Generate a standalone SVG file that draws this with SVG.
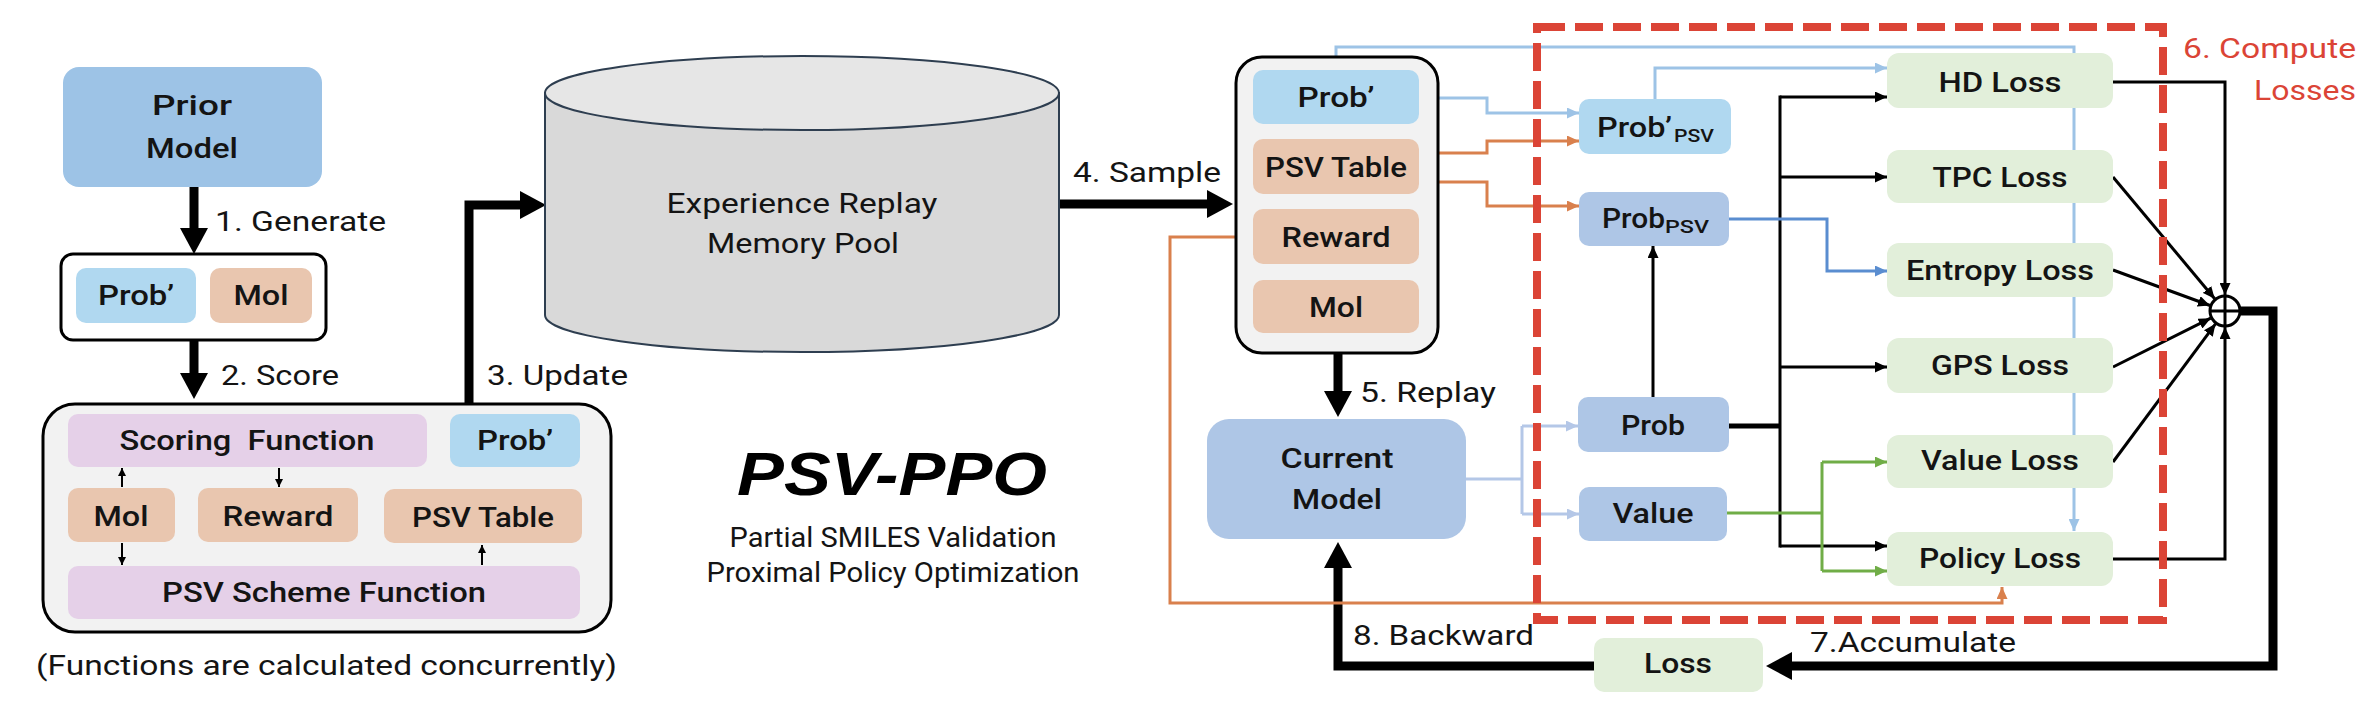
<svg xmlns="http://www.w3.org/2000/svg" width="2366" height="724" viewBox="0 0 2366 724">
<style>
.lbl{font-family:Roboto,"Liberation Sans",sans-serif;font-size:28px;font-weight:500;text-anchor:middle;fill:#141414}
.edge{font-family:Roboto,"Liberation Sans",sans-serif;font-size:27px;font-weight:400;fill:#141414}
.box{stroke:none}
.blue{fill:#AEC6E6}.lblue{fill:#B0D8F0}.peach{fill:#E9C6AF}.lav{fill:#E5D0E8}.green{fill:#E2EFDA}
.thick{fill:none;stroke:#000;stroke-width:9}
.thin{fill:none;stroke-width:3}
.tiny{fill:none;stroke:#000;stroke-width:2}
.k{stroke:#000}.lb{stroke:#9DC3E6}.pb{stroke:#B4C7E7}.or{stroke:#D9804D}.gr{stroke:#70AD47}.bl{stroke:#5A8DD0}
</style>
<defs>
<marker id="bigA" markerUnits="userSpaceOnUse" markerWidth="26" markerHeight="28" viewBox="0 0 26 28" refX="0" refY="14" orient="auto"><path d="M0,0 L26,14 L0,28 z" fill="#000"/></marker>
<marker id="aK" markerUnits="userSpaceOnUse" markerWidth="12" markerHeight="11" viewBox="0 0 12 11" refX="12" refY="5.5" orient="auto"><path d="M0,0 L12,5.5 L0,11 z" fill="#000"/></marker>
<marker id="aLB" markerUnits="userSpaceOnUse" markerWidth="12" markerHeight="11" viewBox="0 0 12 11" refX="12" refY="5.5" orient="auto"><path d="M0,0 L12,5.5 L0,11 z" fill="#9DC3E6"/></marker>
<marker id="aPB" markerUnits="userSpaceOnUse" markerWidth="12" markerHeight="11" viewBox="0 0 12 11" refX="12" refY="5.5" orient="auto"><path d="M0,0 L12,5.5 L0,11 z" fill="#B4C7E7"/></marker>
<marker id="aOR" markerUnits="userSpaceOnUse" markerWidth="12" markerHeight="11" viewBox="0 0 12 11" refX="12" refY="5.5" orient="auto"><path d="M0,0 L12,5.5 L0,11 z" fill="#D9804D"/></marker>
<marker id="aGR" markerUnits="userSpaceOnUse" markerWidth="12" markerHeight="11" viewBox="0 0 12 11" refX="12" refY="5.5" orient="auto"><path d="M0,0 L12,5.5 L0,11 z" fill="#70AD47"/></marker>
<marker id="aBL" markerUnits="userSpaceOnUse" markerWidth="12" markerHeight="11" viewBox="0 0 12 11" refX="12" refY="5.5" orient="auto"><path d="M0,0 L12,5.5 L0,11 z" fill="#5A8DD0"/></marker>
<marker id="aS" markerUnits="userSpaceOnUse" markerWidth="8" markerHeight="8" viewBox="0 0 8 8" refX="8" refY="4" orient="auto"><path d="M0,0 L8,4 L0,8 z" fill="#000"/></marker>
</defs>
<rect width="2366" height="724" fill="#fff"/>

<!-- connectors drawn beneath nodes -->
<g id="connectors">
  <!-- big flow arrows -->
  <path class="thick" d="M194,187 V228" marker-end="url(#bigA)"/>
  <path class="thick" d="M194,340 V373" marker-end="url(#bigA)"/>
  <path class="thick" d="M469,404 V205 H520" marker-end="url(#bigA)"/>
  <path class="thick" d="M1059,204 H1207" marker-end="url(#bigA)"/>
  <path class="thick" d="M1338,353 V391" marker-end="url(#bigA)"/>
  <path class="thick" d="M1594,666 H1338 V568" marker-end="url(#bigA)"/>
  <path class="thick" d="M2238,311 H2273 V666 H1792" marker-end="url(#bigA)"/>
  <!-- light blue (Prob') -->
  <path class="thin lb" d="M1336,70 V47 H2074 V531" marker-end="url(#aLB)"/>
  <path class="thin lb" d="M1419,98 H1487 V113 H1579" marker-end="url(#aLB)"/>
  <path class="thin lb" d="M1655,99 V68 H1887" marker-end="url(#aLB)"/>
  <!-- orange (PSV Table, Reward) -->
  <path class="thin or" d="M1419,153 H1487 V141 H1579" marker-end="url(#aOR)"/>
  <path class="thin or" d="M1419,182 H1487 V206 H1579" marker-end="url(#aOR)"/>
  <path class="thin or" d="M1236,237 H1170 V603 H2002 V587" marker-end="url(#aOR)"/>
  <!-- pale blue (Current Model) -->
  <path class="thin pb" d="M1466,479 H1522"/>
  <path class="thin pb" d="M1522,426 V514"/>
  <path class="thin pb" d="M1522,426 H1578" marker-end="url(#aPB)"/>
  <path class="thin pb" d="M1522,514 H1579" marker-end="url(#aPB)"/>
  <!-- black (Prob) -->
  <path class="thin k" d="M1653,397 V246" marker-end="url(#aK)"/>
  <path fill="none" stroke="#000" stroke-width="5" d="M1729,426 H1781"/>
  <path class="thin k" d="M1780,95.5 V547.5"/>
  <path class="thin k" d="M1780,97 H1887" marker-end="url(#aK)"/>
  <path class="thin k" d="M1780,177 H1887" marker-end="url(#aK)"/>
  <path class="thin k" d="M1780,367 H1887" marker-end="url(#aK)"/>
  <path class="thin k" d="M1780,546 H1887" marker-end="url(#aK)"/>
  <!-- blue (ProbPSV to Entropy) -->
  <path class="thin bl" d="M1729,219 H1827 V271 H1887" marker-end="url(#aBL)"/>
  <!-- green (Value) -->
  <path class="thin gr" d="M1727,513 H1822"/>
  <path class="thin gr" d="M1822,462 V571"/>
  <path class="thin gr" d="M1822,462 H1887" marker-end="url(#aGR)"/>
  <path class="thin gr" d="M1822,571 H1887" marker-end="url(#aGR)"/>
  <!-- losses to sum -->
  <path class="thin k" d="M2113,82 H2225 V295" marker-end="url(#aK)"/>
  <path class="thin k" d="M2113,559 H2225 V327" marker-end="url(#aK)"/>
  <path class="thin k" d="M2113,177 L2214.7,298.7" marker-end="url(#aK)"/>
  <path class="thin k" d="M2113,270 L2210,305.5" marker-end="url(#aK)"/>
  <path class="thin k" d="M2113,367 L2210.7,318.2" marker-end="url(#aK)"/>
  <path class="thin k" d="M2113,462 L2215.5,323.8" marker-end="url(#aK)"/>
</g>

<!-- left part -->
<g id="prior-model">
  <rect x="63" y="67" width="259" height="120" rx="16" fill="#9DC3E6"/>
  <text class="lbl" x="192" y="115" textLength="80" lengthAdjust="spacingAndGlyphs">Prior</text>
  <text class="lbl" x="192" y="158" textLength="92" lengthAdjust="spacingAndGlyphs">Model</text>
</g>
<text class="edge" x="215" y="231" textLength="171" lengthAdjust="spacingAndGlyphs">1. Generate</text>
<g id="generated">
  <rect x="61" y="254" width="265" height="86" rx="12" fill="#fff" stroke="#000" stroke-width="3"/>
  <rect class="lblue" x="76" y="268" width="120" height="55" rx="10"/>
  <text class="lbl" x="136" y="305" textLength="76" lengthAdjust="spacingAndGlyphs">Prob’</text>
  <rect class="peach" x="210" y="268" width="102" height="55" rx="10"/>
  <text class="lbl" x="261" y="305" textLength="55" lengthAdjust="spacingAndGlyphs">Mol</text>
</g>
<text class="edge" x="221" y="385" textLength="118" lengthAdjust="spacingAndGlyphs">2. Score</text>
<g id="scoring">
  <rect x="43" y="404" width="568" height="228" rx="32" fill="#F2F2F2" stroke="#000" stroke-width="3"/>
  <rect class="lav" x="68" y="414" width="359" height="53" rx="10"/>
  <text class="lbl" x="247" y="450" textLength="255" lengthAdjust="spacingAndGlyphs" style="white-space:pre">Scoring  Function</text>
  <rect class="lblue" x="450" y="414" width="130" height="53" rx="10"/>
  <text class="lbl" x="515" y="450" textLength="76" lengthAdjust="spacingAndGlyphs">Prob’</text>
  <rect class="peach" x="68" y="488" width="107" height="54" rx="10"/>
  <text class="lbl" x="121" y="526" textLength="55" lengthAdjust="spacingAndGlyphs">Mol</text>
  <rect class="peach" x="198" y="488" width="160" height="54" rx="10"/>
  <text class="lbl" x="278" y="526" textLength="111" lengthAdjust="spacingAndGlyphs">Reward</text>
  <rect class="peach" x="384" y="489" width="198" height="54" rx="10"/>
  <text class="lbl" x="483" y="527" textLength="142" lengthAdjust="spacingAndGlyphs">PSV Table</text>
  <rect class="lav" x="68" y="566" width="512" height="53" rx="10"/>
  <text class="lbl" x="324" y="602" textLength="324" lengthAdjust="spacingAndGlyphs">PSV Scheme Function</text>
  <!-- small arrows inside scoring container -->
  <path class="tiny" d="M122,487 V468" marker-end="url(#aS)"/>
  <path class="tiny" d="M279,468 V487" marker-end="url(#aS)"/>
  <path class="tiny" d="M122,543 V565" marker-end="url(#aS)"/>
  <path class="tiny" d="M482,565 V545" marker-end="url(#aS)"/>
</g>
<text class="edge" x="36" y="675" font-size="28" textLength="581" lengthAdjust="spacingAndGlyphs">(Functions are calculated concurrently)</text>
<text class="edge" x="487" y="385" textLength="141" lengthAdjust="spacingAndGlyphs">3. Update</text>

<g id="memory-pool">
  <path d="M545,93 V315 A257,37 0 0 0 1059,315 V93 Z" fill="#D9D9D9" stroke="#2E3E50" stroke-width="2"/>
  <ellipse cx="802" cy="93" rx="257" ry="37" fill="#E6E6E6" stroke="#2E3E50" stroke-width="2"/>
  <text class="edge" x="802" y="213" font-size="28" text-anchor="middle" textLength="271" lengthAdjust="spacingAndGlyphs">Experience Replay</text>
  <text class="edge" x="803" y="253" font-size="28" text-anchor="middle" textLength="192" lengthAdjust="spacingAndGlyphs">Memory Pool</text>
</g>
<text class="edge" x="1073" y="182" textLength="148" lengthAdjust="spacingAndGlyphs">4. Sample</text>

<g id="title">
  <text x="892" y="495" font-family="'Liberation Sans',Arial,sans-serif" font-size="62" font-weight="bold" font-style="italic" text-anchor="middle" textLength="310" lengthAdjust="spacingAndGlyphs" fill="#000">PSV-PPO</text>
  <text class="edge" x="893" y="547" font-size="23" text-anchor="middle" textLength="327" lengthAdjust="spacingAndGlyphs">Partial SMILES Validation</text>
  <text class="edge" x="893" y="582" font-size="23" text-anchor="middle" textLength="373" lengthAdjust="spacingAndGlyphs">Proximal Policy Optimization</text>
</g>

<g id="sample-batch">
  <rect x="1236" y="57" width="202" height="296" rx="26" fill="#F2F2F2" stroke="#000" stroke-width="3"/>
  <rect class="lblue" x="1253" y="70" width="166" height="54" rx="10"/>
  <text class="lbl" x="1336" y="107" textLength="77" lengthAdjust="spacingAndGlyphs">Prob’</text>
  <rect class="peach" x="1253" y="139" width="166" height="55" rx="10"/>
  <text class="lbl" x="1336" y="177" textLength="142" lengthAdjust="spacingAndGlyphs">PSV Table</text>
  <rect class="peach" x="1253" y="209" width="166" height="55" rx="10"/>
  <text class="lbl" x="1336" y="247" textLength="109" lengthAdjust="spacingAndGlyphs">Reward</text>
  <rect class="peach" x="1253" y="280" width="166" height="53" rx="10"/>
  <text class="lbl" x="1336" y="317" textLength="54" lengthAdjust="spacingAndGlyphs">Mol</text>
</g>
<text class="edge" x="1360" y="402" textLength="136" lengthAdjust="spacingAndGlyphs">5. Replay</text>
<g id="current-model">
  <rect class="blue" x="1207" y="419" width="259" height="120" rx="22"/>
  <text class="lbl" x="1337" y="468" textLength="113" lengthAdjust="spacingAndGlyphs">Current</text>
  <text class="lbl" x="1337" y="509" textLength="90" lengthAdjust="spacingAndGlyphs">Model</text>
</g>
<text class="edge" x="1353" y="645" textLength="181" lengthAdjust="spacingAndGlyphs">8. Backward</text>
<g id="loss">
  <rect class="green" x="1594" y="638" width="169" height="54" rx="10"/>
  <text class="lbl" x="1678" y="673" textLength="68" lengthAdjust="spacingAndGlyphs">Loss</text>
</g>
<text class="edge" x="1810" y="652" textLength="206" lengthAdjust="spacingAndGlyphs">7.Accumulate</text>

<g id="compute-losses">
  <rect x="1537" y="27" width="626" height="593" fill="none" stroke="#DB4436" stroke-width="8" stroke-dasharray="28 10"/>
  <text x="2356" y="58" font-family="Roboto,'Liberation Sans',sans-serif" font-size="28" fill="#DB4436" text-anchor="end" textLength="173" lengthAdjust="spacingAndGlyphs">6. Compute</text>
  <text x="2356" y="100" font-family="Roboto,'Liberation Sans',sans-serif" font-size="28" fill="#DB4436" text-anchor="end" textLength="102" lengthAdjust="spacingAndGlyphs">Losses</text>
</g>

<g id="prob-prime-psv">
  <rect class="lblue" x="1579" y="99" width="152" height="55" rx="10"/>
  <text class="lbl" style="text-anchor:start"><tspan x="1597" y="137" textLength="75" lengthAdjust="spacingAndGlyphs">Prob’</tspan><tspan x="1674" y="142" font-size="18" textLength="40" lengthAdjust="spacingAndGlyphs">PSV</tspan></text>
</g>
<g id="prob-psv">
  <rect class="blue" x="1579" y="192" width="150" height="54" rx="10"/>
  <text class="lbl" style="text-anchor:start"><tspan x="1602" y="228" textLength="63" lengthAdjust="spacingAndGlyphs">Prob</tspan><tspan x="1665" y="233" font-size="18" textLength="44" lengthAdjust="spacingAndGlyphs">PSV</tspan></text>
</g>
<g id="prob">
  <rect class="blue" x="1578" y="397" width="151" height="55" rx="10"/>
  <text class="lbl" x="1653" y="435" textLength="64" lengthAdjust="spacingAndGlyphs">Prob</text>
</g>
<g id="value">
  <rect class="blue" x="1579" y="487" width="148" height="54" rx="10"/>
  <text class="lbl" x="1653" y="523" textLength="81" lengthAdjust="spacingAndGlyphs">Value</text>
</g>

<g id="hd-loss"><rect class="green" x="1887" y="53" width="226" height="55" rx="12"/><text class="lbl" x="2000" y="92" textLength="123" lengthAdjust="spacingAndGlyphs">HD Loss</text></g>
<g id="tpc-loss"><rect class="green" x="1887" y="150" width="226" height="53" rx="12"/><text class="lbl" x="2000" y="187" textLength="135" lengthAdjust="spacingAndGlyphs">TPC Loss</text></g>
<g id="entropy-loss"><rect class="green" x="1887" y="243" width="226" height="54" rx="12"/><text class="lbl" x="2000" y="280" textLength="188" lengthAdjust="spacingAndGlyphs">Entropy Loss</text></g>
<g id="gps-loss"><rect class="green" x="1887" y="338" width="226" height="55" rx="12"/><text class="lbl" x="2000" y="375" textLength="138" lengthAdjust="spacingAndGlyphs">GPS Loss</text></g>
<g id="value-loss"><rect class="green" x="1887" y="435" width="226" height="53" rx="12"/><text class="lbl" x="2000" y="470" textLength="158" lengthAdjust="spacingAndGlyphs">Value Loss</text></g>
<g id="policy-loss"><rect class="green" x="1887" y="532" width="226" height="54" rx="12"/><text class="lbl" x="2000" y="568" textLength="162" lengthAdjust="spacingAndGlyphs">Policy Loss</text></g>

<g id="sum">
  <circle cx="2225" cy="311" r="15" fill="#fff" stroke="#000" stroke-width="3"/>
  <path d="M2210,311 H2240 M2225,296 V326" stroke="#000" stroke-width="3"/>
</g>
</svg>
